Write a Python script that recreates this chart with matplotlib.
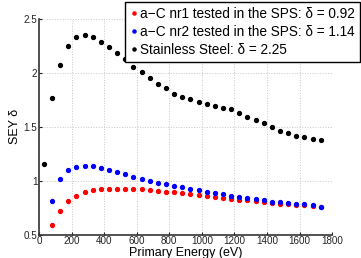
"""SEY versus primary energy for a-C coatings and stainless steel."""

import matplotlib
matplotlib.use("Agg")
import matplotlib.pyplot as plt

energy_ss = [30, 80, 130, 180, 230, 280, 330, 380, 430, 480, 530, 580, 630, 680,
             730, 780, 830, 880, 930, 980, 1030, 1080, 1130, 1180, 1230, 1280,
             1330, 1380, 1430, 1480, 1530, 1580, 1630, 1680, 1730]
sey_ss = [1.155, 1.77, 2.07, 2.25, 2.33, 2.35, 2.33, 2.29, 2.24, 2.19, 2.13, 2.06,
          2.01, 1.95, 1.90, 1.86, 1.81, 1.78, 1.76, 1.735, 1.71, 1.695, 1.68, 1.665,
          1.63, 1.59, 1.565, 1.535, 1.495, 1.46, 1.44, 1.42, 1.41, 1.39, 1.38]

energy_ac = energy_ss[1:]
sey_nr1 = [0.595, 0.722, 0.812, 0.861, 0.895, 0.913, 0.923, 0.926, 0.929, 0.929,
           0.926, 0.92, 0.914, 0.907, 0.901, 0.895, 0.889, 0.88, 0.87, 0.861,
           0.852, 0.84, 0.833, 0.824, 0.818, 0.812, 0.803, 0.796, 0.787, 0.784,
           0.775, 0.772, 0.766, 0.756]
sey_nr2 = [0.815, 1.021, 1.102, 1.132, 1.142, 1.142, 1.12, 1.10, 1.08, 1.062,
           1.04, 1.019, 1.0, 0.984, 0.972, 0.956, 0.942, 0.929, 0.914, 0.898,
           0.892, 0.877, 0.864, 0.852, 0.840, 0.831, 0.818, 0.808, 0.803, 0.796,
           0.790, 0.781, 0.775, 0.759]

labels = ["a\u2212C nr1 tested in the SPS: \u03b4 = 0.92",
          "a\u2212C nr2 tested in the SPS: \u03b4 = 1.14",
          "Stainless Steel: \u03b4 = 2.25"]

plt.rcParams["font.family"] = ["Liberation Sans", "DejaVu Sans"]

fig = plt.figure(figsize=(3.61, 2.58), dpi=100)
ax = fig.add_axes([0.108, 0.09, 0.812, 0.836])

ax.plot(energy_ac, sey_nr1, "o", color="red", markersize=2.8, label=labels[0])
ax.plot(energy_ac, sey_nr2, "o", color="blue", markersize=2.8, label=labels[1])
ax.plot(energy_ss, sey_ss, "o", color="black", markersize=2.8, label=labels[2])

ax.set_xlim(0, 1800)
ax.set_ylim(0.5, 2.5)
ax.set_xticks(range(0, 1801, 200))
ax.set_yticks([0.5, 1, 1.5, 2, 2.5])
ax.set_yticklabels(["0.5", "1", "1.5", "2", "2.5"])
ax.tick_params(direction="in", length=2.5, labelsize=7.1, pad=1.2, colors="#222222")
ax.grid(True, linestyle=":", color="#c8c8c8", linewidth=0.7)
ax.set_axisbelow(True)
for side in ("top", "right"):
    ax.spines[side].set_visible(False)
for side in ("left", "bottom"):
    ax.spines[side].set_color("#333333")
    ax.spines[side].set_linewidth(1.2)

ax.set_xlabel("Primary Energy (eV)", fontsize=9, labelpad=0.3)
ax.set_ylabel("SEY \u03b4", fontsize=9, labelpad=1.5)

leg = fig.legend(loc="upper right", bbox_to_anchor=(0.998, 0.993), fontsize=9.8,
                 frameon=True, fancybox=False, borderpad=0.38, labelspacing=0.28,
                 handlelength=0.5, handletextpad=0.25, borderaxespad=0.0,
                 markerscale=0.8)
leg.get_frame().set_edgecolor("black")
leg.get_frame().set_linewidth(1.0)
leg.get_frame().set_alpha(1.0)

fig.savefig("out.png", dpi=100)
